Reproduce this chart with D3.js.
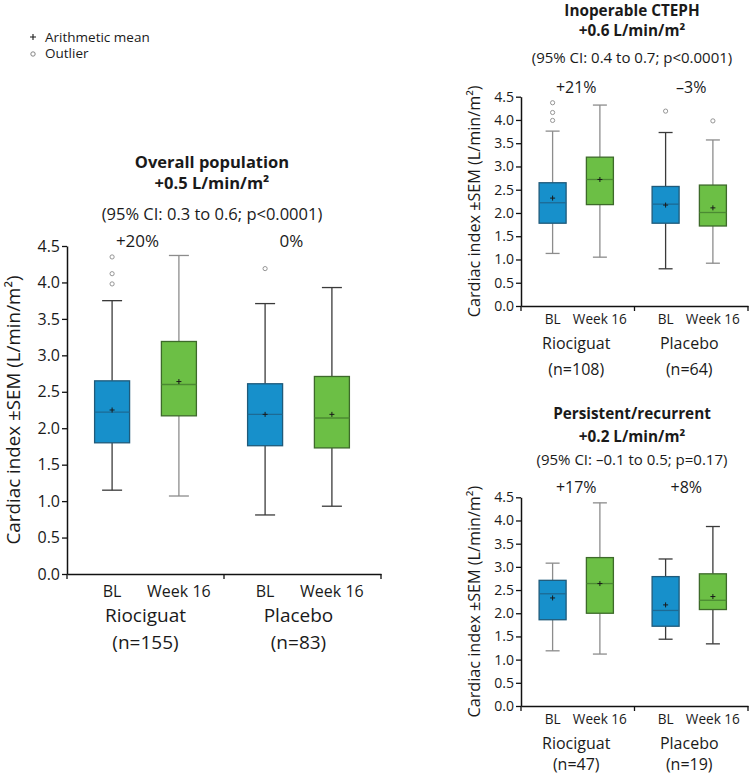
<!DOCTYPE html>
<html><head><meta charset="utf-8">
<script src="https://cdn.jsdelivr.net/npm/d3@7/dist/d3.min.js"></script>
<style>body{margin:0;background:#fff}svg{display:block}text{font-family:"Open Sans",Lato,sans-serif;fill:#1a1a1a}</style>
</head><body><svg id="c" width="750" height="776"></svg>
<script>
// ---------- data ----------
const groups = ["Riociguat", "Placebo"];
const timepoints = ["BL", "Week 16"];
const yTickValues = [0, 0.5, 1, 1.5, 2, 2.5, 3, 3.5, 4, 4.5];
const legendLabels = ["Arithmetic mean", "Outlier"];

// order of boxes: Riociguat BL, Riociguat Week 16, Placebo BL, Placebo Week 16
const overallTitle = ["Overall population", "+0.5 L/min/m²", "(95% CI: 0.3 to 0.6; p<0.0001)"];
const overallPct = ["+20%", "0%"];
const overallN = ["(n=155)", "(n=83)"];
const overallLow = [1.15, 1.07, 0.81, 0.93];
const overallQ1 = [1.80, 2.17, 1.76, 1.73];
const overallMedian = [2.22, 2.60, 2.19, 2.14];
const overallQ3 = [2.65, 3.19, 2.61, 2.71];
const overallHigh = [3.75, 4.37, 3.71, 3.93];
const overallMean = [2.25, 2.64, 2.19, 2.19];
const overallOutliers = [[4.35, 4.12, 3.98], [], [4.19], []];

const inopTitle = ["Inoperable CTEPH", "+0.6 L/min/m²", "(95% CI: 0.4 to 0.7; p<0.0001)"];
const inopPct = ["+21%", "\u20133%"];
const inopN = ["(n=108)", "(n=64)"];
const inopLow = [1.13, 1.05, 0.80, 0.92];
const inopQ1 = [1.78, 2.18, 1.78, 1.72];
const inopMedian = [2.22, 2.72, 2.19, 2.01];
const inopQ3 = [2.65, 3.20, 2.57, 2.60];
const inopHigh = [3.76, 4.32, 3.73, 3.57];
const inopMean = [2.32, 2.72, 2.17, 2.11];
const inopOutliers = [[4.37, 4.16, 3.99], [], [4.19], [3.98]];

const persTitle = ["Persistent/recurrent", "+0.2 L/min/m²", "(95% CI: \u20130.1 to 0.5; p=0.17)"];
const persPct = ["+17%", "+8%"];
const persN = ["(n=47)", "(n=19)"];
const persLow = [1.19, 1.12, 1.44, 1.34];
const persQ1 = [1.86, 2.00, 1.72, 2.08];
const persMedian = [2.42, 2.64, 2.06, 2.28];
const persQ3 = [2.71, 3.20, 2.79, 2.85];
const persHigh = [3.08, 4.38, 3.17, 3.87];
const persMean = [2.33, 2.64, 2.18, 2.36];
const persOutliers = [[], [], [], []];

const yLabel = "Cardiac index \u00b1SEM (L/min/m\u00b2)";

// ---------- drawing ----------
const svg = d3.select("#c");
const fillColors = {"BL": "#1790cb", "Week 16": "#6cbf45"};
const strokeColors = {"BL": "#1f5a7a", "Week 16": "#3d6a2a"};
const medianColors = {"BL": "#1d6a94", "Week 16": "#4b8a32"};

// legend
const lg = svg.append("g");
lg.append("path").attr("d", "M30,37H36M33,34V40").attr("stroke", "#1a1a1a").attr("stroke-width", 1.1);
lg.append("circle").attr("cx", 33).attr("cy", 54).attr("r", 2.2).attr("fill", "none").attr("stroke", "#777").attr("stroke-width", 0.9);
legendLabels.forEach((t, i) => lg.append("text").attr("x", 45).attr("y", 37 + i * 16.5).attr("dy", "0.35em")
  .style("font-size", "13.5px").text(t));

function panel(o) {
  const g = svg.append("g");
  const y = d3.scaleLinear().domain([0, 4.5]).range([o.y0, o.yTop]);
  const xg = d3.scaleBand().domain(groups).range([o.x0, o.x1]);
  const xt = d3.scaleBand().domain(timepoints).range([0, xg.bandwidth()]).paddingInner(o.padIn).paddingOuter(o.padOut);
  const cx = (gi, ti) => xg(groups[gi]) + xt(timepoints[ti]) + xt.bandwidth() / 2 + o.shift[gi];

  // y axis
  const ya = d3.axisLeft(y).tickValues(yTickValues).tickFormat(d3.format(".1f")).tickSize(5).tickSizeOuter(0);
  const yAx = g.append("g").attr("transform", `translate(${o.x0},0)`).call(ya);
  yAx.select(".domain").attr("stroke", "#111").attr("stroke-width", 1.5);
  yAx.selectAll(".tick line").attr("stroke", "#111").attr("stroke-width", 1.3);
  yAx.selectAll(".tick text").style("font-size", o.tickFs + "px").style("font-family", "'Open Sans'").attr("fill", "#1a1a1a").attr("x", -7);

  // x axis
  const xa = d3.axisBottom(xg).tickValues([]).tickSizeOuter(0);
  const xAx = g.append("g").attr("transform", `translate(0,${o.y0})`).call(xa);
  xAx.select(".domain").attr("stroke", "#111").attr("stroke-width", 1.5);
  const bounds = [o.x0, xg(groups[1]), o.x1];
  xAx.selectAll("line.sep").data(bounds).join("line").attr("class", "sep")
    .attr("x1", d => d).attr("x2", d => d).attr("y1", 0).attr("y2", 5).attr("stroke", "#111").attr("stroke-width", 1.3);

  // boxes
  const bw = o.boxW;
  for (let i = 0; i < 4; i++) {
    const gi = Math.floor(i / 2), ti = i % 2, t = timepoints[ti];
    const c = cx(gi, ti);
    const wc = (o.whiskerGray && o.whiskerGray[i]) ? "#8c8c8c" : "#3a3a3a";
    const bg = g.append("g");
    bg.append("line").attr("x1", c).attr("x2", c).attr("y1", y(o.high[i])).attr("y2", y(o.q3[i])).attr("stroke", wc).attr("stroke-width", 1.3);
    bg.append("line").attr("x1", c).attr("x2", c).attr("y1", y(o.q1[i])).attr("y2", y(o.low[i])).attr("stroke", wc).attr("stroke-width", 1.3);
    [o.high[i], o.low[i]].forEach(v => bg.append("line").attr("x1", c - o.capW / 2).attr("x2", c + o.capW / 2)
      .attr("y1", y(v)).attr("y2", y(v)).attr("stroke", wc).attr("stroke-width", 1.3));
    bg.append("rect").attr("x", c - bw / 2).attr("width", bw).attr("y", y(o.q3[i])).attr("height", y(o.q1[i]) - y(o.q3[i]))
      .attr("fill", fillColors[t]).attr("stroke", strokeColors[t]).attr("stroke-width", 1.3);
    bg.append("line").attr("x1", c - bw / 2).attr("x2", c + bw / 2).attr("y1", y(o.median[i])).attr("y2", y(o.median[i]))
      .attr("stroke", medianColors[t]).attr("stroke-width", 1.3);
    const m = y(o.mean[i]);
    bg.append("path").attr("d", `M${c - 2.5},${m}H${c + 2.5}M${c},${m - 2.5}V${m + 2.5}`).attr("stroke", "#1a1a1a").attr("stroke-width", 1);
    o.outliers[i].forEach(v => bg.append("circle").attr("cx", c).attr("cy", y(v)).attr("r", 2.1)
      .attr("fill", "none").attr("stroke", "#8a8a8a").attr("stroke-width", 0.9));

    bg.append("text").attr("x", c).attr("y", o.y0 + o.tpDy).attr("dy", "0.35em").attr("text-anchor", "middle")
      .style("font-size", o.tpFs + "px").text(t);
  }

  // group labels
  groups.forEach((gr, gi) => {
    const c = xg(gr) + xg.bandwidth() / 2 + o.shift[gi];
    g.append("text").attr("x", c).attr("y", o.y0 + o.grDy).attr("dy", "0.35em").attr("text-anchor", "middle")
      .style("font-size", o.grFs + "px").text(gr);
    g.append("text").attr("x", c).attr("y", o.y0 + o.nDy).attr("dy", "0.35em").attr("text-anchor", "middle")
      .style("font-size", o.grFs + "px").text(o.n[gi]);
    g.append("text").attr("x", c + o.pctShift[gi]).attr("y", o.pctY).attr("dy", "0.35em").attr("text-anchor", "middle")
      .style("font-size", o.pctFs + "px").text(o.pct[gi]);
  });

  // titles
  o.title.forEach((t, i) => g.append("text").attr("x", o.titleX).attr("y", o.titleY[i]).attr("dy", "0.35em")
    .attr("text-anchor", "middle").style("font-size", (i < 2 ? o.titleFs : o.ciFs) + "px")
    .style("font-weight", i < 2 ? "bold" : "normal").text(t));

  // y label
  g.append("text").attr("transform", `translate(${o.ylX},${(o.y0 + o.yTop) / 2}) rotate(-90)`).attr("dy", "0.35em")
    .attr("text-anchor", "middle").style("font-size", o.ylFs + "px").text(yLabel);
}

panel({
  x0: 67, x1: 381, y0: 574, yTop: 246, padIn: 0.25, padOut: 0.3, shift: [0, -4], boxW: 35, capW: 20,
  low: overallLow, q1: overallQ1, median: overallMedian, q3: overallQ3, high: overallHigh, mean: overallMean, outliers: overallOutliers,
  whiskerGray: [false, true, false, false],
  tickFs: 16, tpFs: 16, tpDy: 17, grFs: 19, grDy: 41, nDy: 68,
  pct: overallPct, pctY: 241, pctFs: 17, pctShift: [-8, -7], n: overallN,
  title: overallTitle, titleX: 212, titleY: [162, 183, 214], titleFs: 16.5, ciFs: 16.5,
  ylX: 13, ylFs: 18.8
});
panel({
  x0: 521, x1: 748, y0: 306, yTop: 96.7, padIn: 0.3, padOut: 0.35, shift: [-1.5, -2], boxW: 27, capW: 14,
  low: inopLow, q1: inopQ1, median: inopMedian, q3: inopQ3, high: inopHigh, mean: inopMean, outliers: inopOutliers,
  whiskerGray: [true, true, false, true],
  tickFs: 14, tpFs: 13.6, tpDy: 13, grFs: 16, grDy: 37, nDy: 63,
  pct: inopPct, pctY: 87, pctFs: 16, pctShift: [0, 2], n: inopN,
  title: inopTitle, titleX: 632, titleY: [11, 31, 58], titleFs: 15.3, ciFs: 15,
  ylX: 474, ylFs: 16.2
});
panel({
  x0: 521, x1: 748, y0: 706, yTop: 497.3, padIn: 0.3, padOut: 0.35, shift: [-1.5, -2], boxW: 27, capW: 14,
  low: persLow, q1: persQ1, median: persMedian, q3: persQ3, high: persHigh, mean: persMean, outliers: persOutliers,
  whiskerGray: [true, true, false, false],
  tickFs: 14, tpFs: 13.6, tpDy: 13, grFs: 16, grDy: 37, nDy: 58,
  pct: persPct, pctY: 487, pctFs: 16, pctShift: [0, -3], n: persN,
  title: persTitle, titleX: 632, titleY: [414, 437, 460], titleFs: 15.3, ciFs: 15,
  ylX: 474, ylFs: 16.2
});
</script></body></html>
